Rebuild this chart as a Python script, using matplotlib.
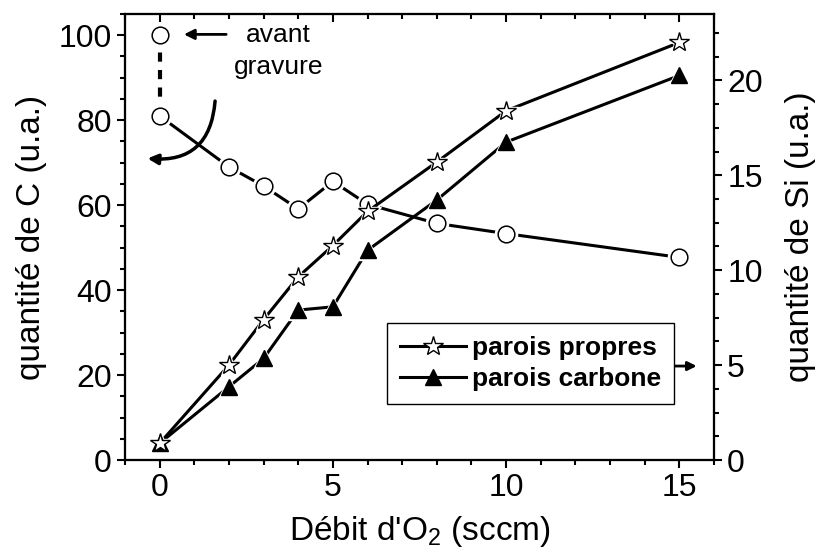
"""
Quantité de C et de Si en fonction du débit d'O2
"""
import matplotlib.pyplot as plt
from matplotlib.lines import Line2D
from matplotlib.ticker import MultipleLocator

plt.rcParams['font.family'] = ['Liberation Sans', 'DejaVu Sans']
plt.rcParams['mathtext.fontset'] = 'custom'
plt.rcParams['mathtext.rm'] = 'Liberation Sans'

# Carbone (axe gauche)
c_avant_x = [0, 0]
c_avant_y = [100, 81]
debit_c = [0, 2, 3, 4, 5, 6, 8, 10, 15]
quantite_c = [81, 69, 64.5, 59.1, 65.6, 60.2, 55.7, 53.3, 47.7]

# Silicium (axe droit)
debit_si = [0, 2, 3, 4, 5, 6, 8, 10, 15]
si_propres = [0.88, 5.0, 7.4, 9.65, 11.3, 13.1, 15.7, 18.4, 22.0]
si_carbone = [0.88, 3.86, 5.35, 7.9, 8.07, 11.05, 13.7, 16.75, 20.26]

lw = 2.2
fig = plt.figure(figsize=(8.19, 5.57), dpi=100)
ax = fig.add_axes([125/819, 1 - 460/557, 589/819, 446/557])
ax2 = ax.twinx()
ax3 = ax.twiny()

# cercles
ax.plot(c_avant_x, c_avant_y, color='black', lw=3, ls=(0, (2.2, 2.0)), zorder=2)
ax.plot(debit_c, quantite_c, color='black', lw=lw, zorder=2)
ax.plot(c_avant_x[:1] + debit_c, c_avant_y[:1] + quantite_c, ls='none', marker='o',
        ms=16, mfc='white', mec='white', zorder=3)
ax.plot(c_avant_x[:1] + debit_c, c_avant_y[:1] + quantite_c, ls='none', marker='o',
        ms=12, mfc='white', mec='black', mew=1.1, zorder=4)

# étoiles et triangles
ax2.plot(debit_si, si_propres, color='black', lw=lw, zorder=2)
ax2.plot(debit_si, si_carbone, color='black', lw=lw, zorder=2)
ax2.plot(debit_si, si_propres, ls='none', marker='*', ms=19, mfc='white', mec='white', zorder=3)
ax2.plot(debit_si, si_carbone, ls='none', marker='^', ms=15, mfc='white', mec='white', zorder=3)
ax2.plot(debit_si, si_carbone, ls='none', marker='^', ms=12, mfc='black', mec='black', zorder=4)
ax2.plot(debit_si, si_propres, ls='none', marker='*', ms=15, mfc='white', mec='black', mew=1.0, zorder=5)

ax.set_xlim(-1, 16)
ax.set_ylim(0, 105)
ax2.set_ylim(0, 23.5)
ax3.set_xlim(-1, 16)

ax.xaxis.set_major_locator(MultipleLocator(5))
ax.xaxis.set_minor_locator(MultipleLocator(1))
ax.yaxis.set_major_locator(MultipleLocator(20))
ax.yaxis.set_minor_locator(MultipleLocator(5))
ax2.yaxis.set_major_locator(MultipleLocator(5))
ax2.yaxis.set_minor_locator(MultipleLocator(1.25))
ax3.xaxis.set_major_locator(MultipleLocator(5))
ax3.xaxis.set_minor_locator(MultipleLocator(1))

for a in (ax, ax2, ax3):
    for s in a.spines.values():
        s.set_linewidth(1.5)
ax.tick_params(which='both', direction='out', labelsize=23, width=1.5)
ax.tick_params(which='major', length=6)
ax.tick_params(which='minor', length=3.5)
ax2.tick_params(which='both', direction='out', labelsize=23, width=1.5)
ax2.tick_params(which='major', length=6)
ax2.tick_params(which='minor', length=3.5)
ax3.tick_params(which='both', direction='in', labeltop=False, width=1.5)
ax3.tick_params(which='major', length=6)
ax3.tick_params(which='minor', length=3.5)

ax.set_xlabel(r"Débit d'O$_\mathregular{2}$ (sccm)", fontsize=24, labelpad=8)
ax.set_ylabel('quantité de C (u.a.)', fontsize=24, labelpad=8)
ax2.set_ylabel('quantité de Si (u.a.)', fontsize=24, rotation=90, labelpad=16)

# annotations
ax.text(3.43, 96.3, 'avant\ngravure', fontsize=19, ha='center', va='center', linespacing=1.45)
ax.annotate('', xy=(0.62, 100.2), xytext=(2.0, 100.2),
            arrowprops=dict(arrowstyle='-|>', color='black', lw=2, mutation_scale=15))
ax.annotate('', xy=(-0.35, 71), xytext=(1.6, 84.5),
            arrowprops=dict(arrowstyle='-|>', color='black', lw=2.5, mutation_scale=15,
                            connectionstyle='arc3,rad=-0.5', shrinkA=0, shrinkB=0))
ax2.annotate('', xy=(15.5, 4.95), xytext=(14.78, 4.95),
             arrowprops=dict(arrowstyle='-|>', color='black', lw=2, mutation_scale=13,
                             shrinkA=0, shrinkB=0))

handles = [
    Line2D([], [], color='black', lw=lw, marker='*', ms=15, mfc='white', mec='black', mew=1.0),
    Line2D([], [], color='black', lw=lw, marker='^', ms=12, mfc='black', mec='black'),
]
leg = ax2.legend(handles, ['parois propres', 'parois carbone'], loc='upper left',
                 bbox_to_anchor=(0.445, 0.307), prop={'size': 19, 'weight': 'bold'},
                 frameon=True, fancybox=False, edgecolor='black', framealpha=1,
                 handlelength=2.5, handletextpad=0.2, borderpad=0.5, labelspacing=0.25,
                 borderaxespad=0)
leg.get_frame().set_linewidth(1.0)

plt.savefig('out.png', dpi=100)
